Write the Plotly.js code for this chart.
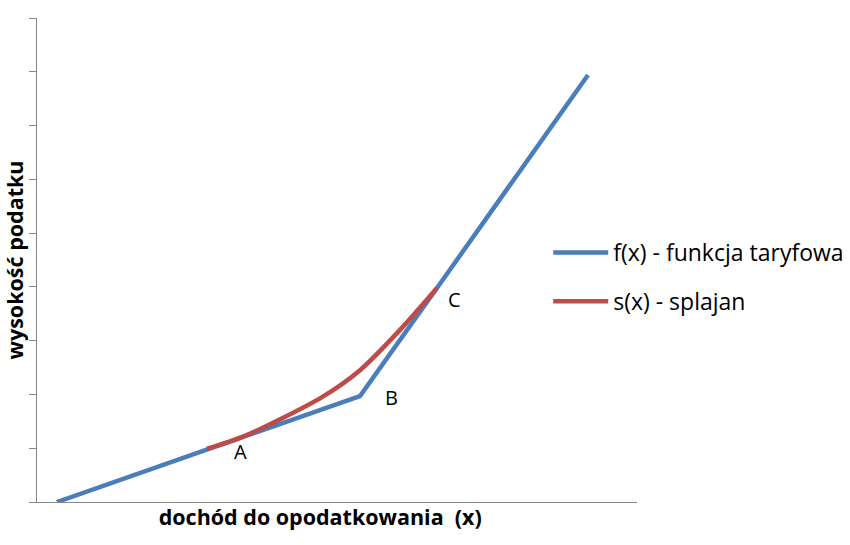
<!DOCTYPE html>
<html>
<head>
<meta charset="utf-8">
<script src="https://cdn.plot.ly/plotly-3.0.1.min.js"></script>
<style>html,body{margin:0;padding:0;background:#fff;}#chart{width:850px;height:545px;}</style>
</head>
<body>
<div id="chart"></div>
<script>
// data (arbitrary units)
var fX = [0.4, 4.16, 6.46, 8.0, 11.02];
var fY = [0.0, 1.23, 1.97, 3.98, 7.94];
var sX = [3.4, 4.16, 5.7, 6.46, 7.26, 8.0];
var sY = [0.99, 1.23, 1.95, 2.45, 3.2, 3.98];
var fName = 'f(x) - funkcja taryfowa';
var sName = 's(x) - splajan';
var pointLabels = ['A', 'B', 'C'];
var labelPointIdx = [1, 2, 3];
var xTitle = 'dochód do opodatkowania  (x)';
var yTitle = 'wysokość podatku';

var FONT = '"Open Sans", sans-serif';
var labelShifts = [[-5, -16], [31, -1], [17, -12]];

var traces = [
  {x: fX, y: fY, name: fName, mode: 'lines', type: 'scatter',
   line: {color: '#4a7ebb', width: 4.5}, legendgroup: 'f'},
  {x: sX, y: sY, name: sName, mode: 'lines', type: 'scatter',
   line: {color: '#be4b48', width: 4.5, shape: 'spline', smoothing: 0.8}, legendgroup: 's'}
];

var annotations = pointLabels.map(function(t, i){
  var k = labelPointIdx[i];
  return {x: fX[k], y: fY[k], xref: 'x', yref: 'y', text: t, showarrow: false,
          xshift: labelShifts[i][0], yshift: labelShifts[i][1],
          font: {family: FONT, size: 20, color: '#000'}};
});

var pad = '&nbsp;&nbsp;&nbsp;&nbsp;&nbsp;&nbsp;';

var layout = {
  width: 850, height: 545,
  margin: {l: 37, r: 213, t: 18, b: 43, pad: 0, autoexpand: false},
  paper_bgcolor: '#fff', plot_bgcolor: '#fff',
  showlegend: true,
  legend: {x: 0.852, y: 0.465, xanchor: 'left', yanchor: 'middle',
           font: {family: FONT, size: 23, color: '#000'},
           bgcolor: 'rgba(0,0,0,0)', traceorder: 'grouped', tracegroupgap: 16,
           itemwidth: 55},
  xaxis: {range: [0, 12], showgrid: false, zeroline: false, showline: true,
          linecolor: '#868686', linewidth: 1, showticklabels: false, ticks: '',
          title: {text: '<b>' + xTitle + pad + '</b>', font: {family: FONT, size: 21.5, color: '#000'}, standoff: 7}},
  yaxis: {range: [0, 9], dtick: 1, showgrid: false, zeroline: false, showline: true,
          linecolor: '#868686', linewidth: 1, showticklabels: false, ticks: 'outside',
          ticklen: 7, tickcolor: '#868686', tickwidth: 1,
          title: {text: '<b>' + yTitle + '</b>', font: {family: FONT, size: 21.5, color: '#000'}, standoff: 4}},
  annotations: annotations
};

Plotly.newPlot('chart', traces, layout, {displayModeBar: false, staticPlot: true});
</script>
</body>
</html>
